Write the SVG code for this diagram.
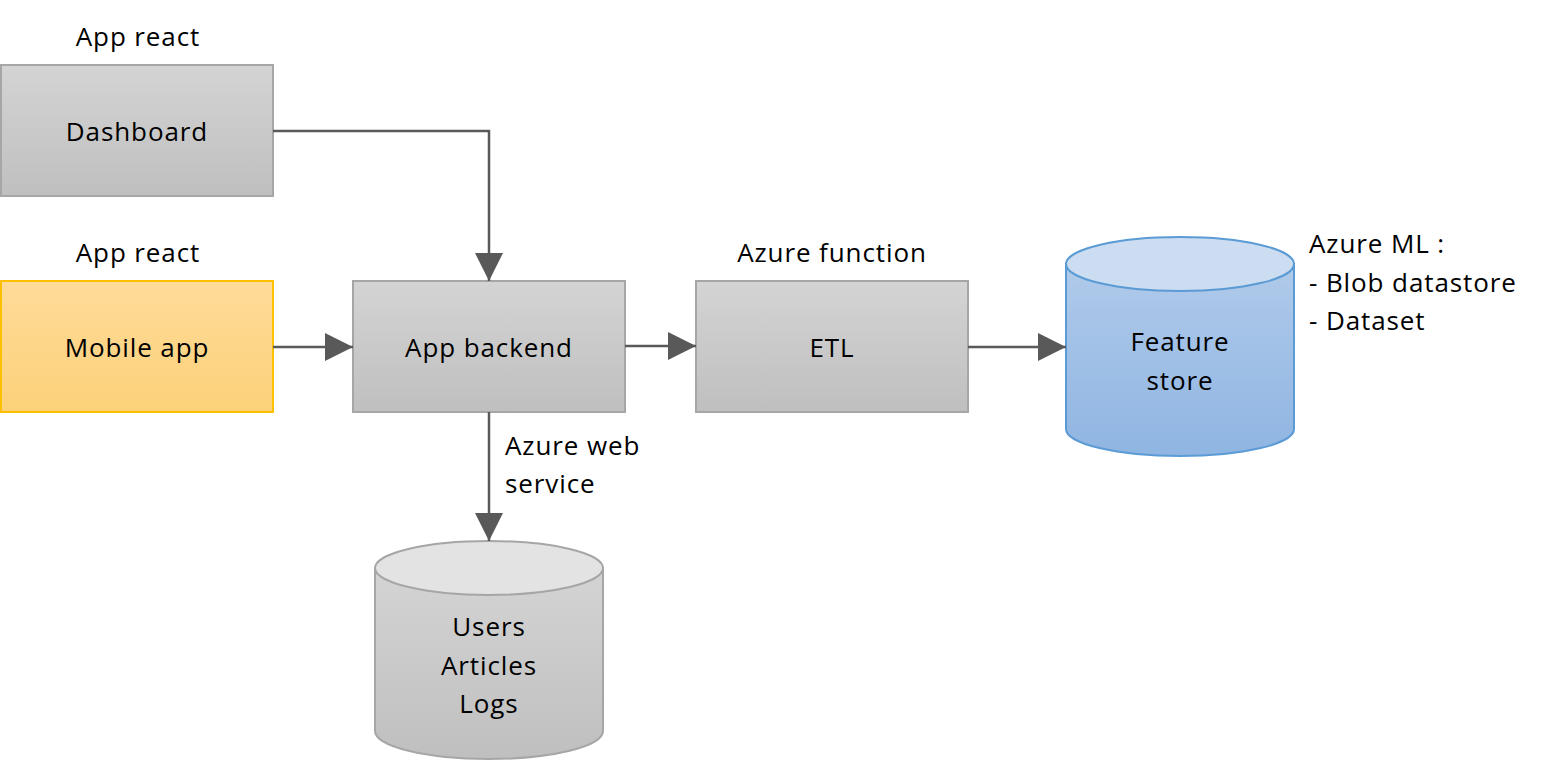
<svg xmlns="http://www.w3.org/2000/svg" width="1554" height="761" viewBox="0 0 1554 761">
  <defs>
    <linearGradient id="gGray" x1="0" y1="0" x2="0" y2="1">
      <stop offset="0" stop-color="#D4D4D4"/>
      <stop offset="1" stop-color="#BFBFBF"/>
    </linearGradient>
    <linearGradient id="gYellow" x1="0" y1="0" x2="0" y2="1">
      <stop offset="0" stop-color="#FFDB99"/>
      <stop offset="1" stop-color="#FCD179"/>
    </linearGradient>
    <linearGradient id="gBlue" x1="0" y1="0" x2="0" y2="1">
      <stop offset="0" stop-color="#B0CAEA"/>
      <stop offset="1" stop-color="#8FB5E2"/>
    </linearGradient>
    <marker id="arr" markerUnits="userSpaceOnUse" markerWidth="28" markerHeight="28" refX="26" refY="13" orient="auto" viewBox="0 0 26 26">
      <path d="M0,0 L26,13 L0,26 Z" fill="#595959"/>
    </marker>
  </defs>
  <style>
    text { font-family: "Open Sans", "Noto Sans", "DejaVu Sans", sans-serif; font-size: 26px; letter-spacing: 0.9px; fill: #000; }
    .c { text-anchor: middle; }
    .box { fill: url(#gGray); stroke: #A6A6A6; stroke-width: 2; }
    .ybox { fill: url(#gYellow); stroke: #FFC000; stroke-width: 2; }
    .conn { fill: none; stroke: #595959; stroke-width: 2.5; marker-end: url(#arr); }
  </style>

  <g id="label-dashboard-top"><text class="c" x="138" y="46">App react</text></g>
  <g id="node-dashboard">
    <rect class="box" x="1" y="65" width="272" height="131"/>
    <text class="c" x="137" y="141">Dashboard</text>
  </g>

  <g id="label-mobile-top"><text class="c" x="138" y="262">App react</text></g>
  <g id="node-mobile">
    <rect class="ybox" x="1" y="281" width="272" height="131"/>
    <text class="c" x="137" y="357">Mobile app</text>
  </g>

  <g id="node-backend">
    <rect class="box" x="353" y="281" width="272" height="131"/>
    <text class="c" x="489" y="357">App backend</text>
  </g>

  <g id="label-etl-top"><text class="c" x="832" y="262">Azure function</text></g>
  <g id="node-etl">
    <rect class="box" x="696" y="281" width="272" height="131"/>
    <text class="c" x="832" y="357">ETL</text>
  </g>

  <g id="node-feature-store">
    <path d="M1066,264 L1066,429 A114,27 0 0 0 1294,429 L1294,264 Z" fill="url(#gBlue)" stroke="#5B9BD5" stroke-width="2"/>
    <ellipse cx="1180" cy="264" rx="114" ry="27" fill="#CCDDF1" stroke="#5B9BD5" stroke-width="2"/>
    <text class="c" x="1180" y="351">Feature</text>
    <text class="c" x="1180" y="390">store</text>
  </g>
  <g id="label-azureml">
    <text x="1309" y="253">Azure ML :</text>
    <text x="1309" y="292">- Blob datastore</text>
    <text x="1309" y="330">- Dataset</text>
  </g>

  <g id="node-db">
    <path d="M375,568 L375,731 A114,28 0 0 0 603,731 L603,568 Z" fill="url(#gGray)" stroke="#A6A6A6" stroke-width="2"/>
    <ellipse cx="489" cy="568" rx="114" ry="27" fill="#E3E3E3" stroke="#A6A6A6" stroke-width="2"/>
    <text class="c" x="489" y="636">Users</text>
    <text class="c" x="489" y="675">Articles</text>
    <text class="c" x="489" y="713">Logs</text>
  </g>

  <g id="connectors">
    <path class="conn" d="M273,131 L489,131 L489,281"/>
    <path class="conn" d="M273,347 L353,347"/>
    <path class="conn" d="M625,346 L696,346"/>
    <path class="conn" d="M968,347 L1066,347"/>
    <path class="conn" d="M489,412 L489,541"/>
    <text x="505" y="455">Azure web</text>
    <text x="505" y="493">service</text>
  </g>
</svg>
